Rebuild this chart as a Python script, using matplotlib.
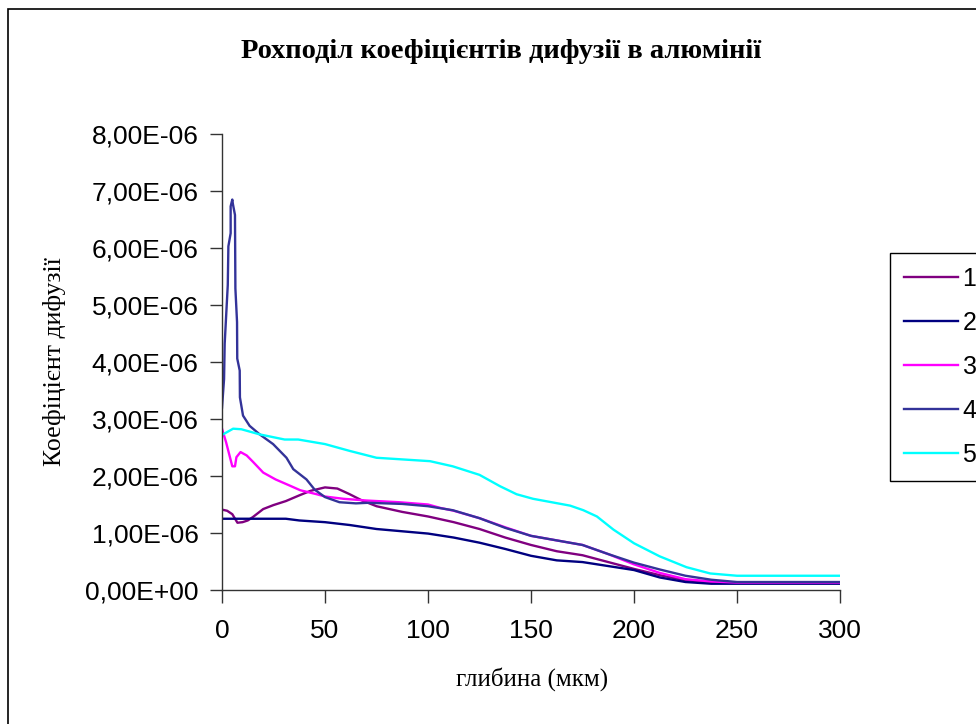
import numpy as np
import matplotlib
matplotlib.use("Agg")
import matplotlib.pyplot as plt
from matplotlib.patches import Rectangle
from matplotlib.ticker import FuncFormatter

# ---- data (depth in мкм, coefficient in 1e-6) ----
x1 = [0, 2.5, 5, 7.5, 10, 12.5, 15, 20, 25, 31, 37.5, 43, 50, 56, 62, 68, 75, 87.5, 100,
      112.5, 125, 137.5, 150, 162.5, 175, 187.5, 200, 212.5, 225, 237.5, 250, 275, 300]
y1 = [1.41, 1.39, 1.33, 1.18, 1.19, 1.22, 1.28, 1.42, 1.49, 1.56, 1.66, 1.74, 1.80, 1.78, 1.68,
      1.57, 1.47, 1.37, 1.29, 1.19, 1.07, 0.92, 0.79, 0.68, 0.61, 0.49, 0.37, 0.26, 0.17, 0.14,
      0.13, 0.13, 0.13]

x2 = [0, 12.5, 25, 31, 37.5, 50, 62, 75, 87.5, 100, 112.5, 125, 137.5, 150, 162.5, 175,
      187.5, 200, 212.5, 225, 237.5, 250, 275, 300]
y2 = [1.25, 1.25, 1.25, 1.25, 1.22, 1.19, 1.14, 1.07, 1.03, 0.99, 0.92, 0.83, 0.72, 0.60,
      0.52, 0.49, 0.42, 0.35, 0.22, 0.14, 0.11, 0.11, 0.11, 0.11]

x3 = [0, 2, 5, 6.3, 7, 9, 12, 15, 20, 26, 33, 38, 46, 50, 59, 70, 86, 100, 106, 112.5, 125,
      137.5, 150, 162.5, 175, 187.5, 200, 212.5, 225, 237.5, 250, 275, 300]
y3 = [2.83, 2.59, 2.17, 2.17, 2.33, 2.42, 2.36, 2.25, 2.06, 1.94, 1.83, 1.75, 1.68, 1.64,
      1.60, 1.57, 1.54, 1.50, 1.44, 1.39, 1.26, 1.10, 0.95, 0.87, 0.79, 0.63, 0.45, 0.30, 0.19,
      0.15, 0.13, 0.13, 0.13]

x4 = [0, 1, 1.3, 2.8, 3.1, 4.2, 4.2, 5, 5.3, 6.3, 6.5, 7.3, 7.4, 8.6, 8.7, 10.2, 13.4, 18.3,
      24.8, 31.3, 34.6, 41, 45, 50, 57, 65, 71, 87.5, 100, 112, 125, 137.5, 150, 162.5, 175,
      187.5, 200, 212.5, 225, 237.5, 250, 275, 300]
y4 = [3.20, 3.70, 4.32, 5.35, 6.03, 6.26, 6.73, 6.85, 6.77, 6.58, 5.29, 4.70, 4.06, 3.85,
      3.38, 3.06, 2.88, 2.73, 2.56, 2.32, 2.12, 1.94, 1.76, 1.63, 1.54, 1.52, 1.53, 1.51, 1.47,
      1.40, 1.26, 1.09, 0.95, 0.87, 0.79, 0.63, 0.48, 0.36, 0.25, 0.18, 0.14, 0.14, 0.14]

x5 = [0, 5.4, 9.4, 18.3, 30.4, 37, 50, 62, 75, 101, 112, 125, 135, 143, 151, 169, 175.4,
      182, 190, 200, 212.5, 225.5, 237, 250, 275, 300]
y5 = [2.72, 2.83, 2.82, 2.73, 2.64, 2.64, 2.56, 2.44, 2.32, 2.26, 2.17, 2.02, 1.82, 1.68,
      1.60, 1.48, 1.40, 1.29, 1.06, 0.82, 0.59, 0.40, 0.29, 0.25, 0.25, 0.25]

labels = ["1", "2", "3", "4", "5"]
colors = ["#800080", "#000080", "#FF00FF", "#333399", "#00FFFF"]
series = [(x1, y1), (x2, y2), (x3, y3), (x4, y4), (x5, y5)]

xticks = [0, 50, 100, 150, 200, 250, 300]
yticks = np.arange(0, 9) * 1e-6

# ---- figure ----
fig = plt.figure(figsize=(9.76, 7.24), dpi=100)
ax = fig.add_axes([222/976, 1 - 590/724, 618/976, 456/724])

for (xs, ys), c, lab in zip(series, colors, labels):
    ax.plot(xs, np.array(ys) * 1e-6, color=c, lw=1.7, label=lab)

ax.set_xlim(0, 300)
ax.set_ylim(0, 8e-6)
ax.set_xticks(xticks)
ax.set_yticks(yticks)
ax.yaxis.set_major_formatter(FuncFormatter(lambda v, p: f"{v:.2E}".replace(".", ",")))

for s in ["top", "right"]:
    ax.spines[s].set_visible(False)
for s in ["left", "bottom"]:
    ax.spines[s].set_color("#333333")
    ax.spines[s].set_linewidth(1.0)

ax.tick_params(axis="both", direction="out", length=9, width=1, color="#333333",
               labelsize=19, labelcolor="black")
ax.tick_params(axis="y", pad=8)
ax.tick_params(axis="x", pad=12)
for lbl in ax.get_xticklabels() + ax.get_yticklabels():
    lbl.set_fontfamily("Liberation Sans")

fig.text(501/976, 1 - 51/724, "Рохподіл коефіцієнтів дифузії в алюмінії",
         ha="center", va="center", fontsize=20.5, fontweight="bold",
         family="Liberation Serif")
fig.text(55/976, 1 - 362/724, "Коефіцієнт дифузії", rotation=90,
         ha="center", va="center", fontsize=18.5, family="Liberation Serif")
fig.text(532/976, 1 - 679/724, "глибина (мкм)",
         ha="center", va="center", fontsize=18, family="Liberation Serif")

leg = ax.legend(loc="upper left", bbox_to_anchor=(890/976, 1 - 253/724),
                bbox_transform=fig.transFigure, borderaxespad=0,
                fancybox=False, edgecolor="black", framealpha=1,
                prop={"family": "Liberation Sans", "size": 18},
                handlelength=2.15, handletextpad=0.2, labelspacing=0.8,
                borderpad=0.55)
leg.get_frame().set_linewidth(1.0)

# outer chart border (runs off right/bottom)
fig.patches.append(Rectangle((8/976, -0.2), 2, (1 - 9/724) + 0.2,
                             transform=fig.transFigure, fill=False,
                             edgecolor="black", lw=1.2))

fig.savefig("out.png", dpi=100)
